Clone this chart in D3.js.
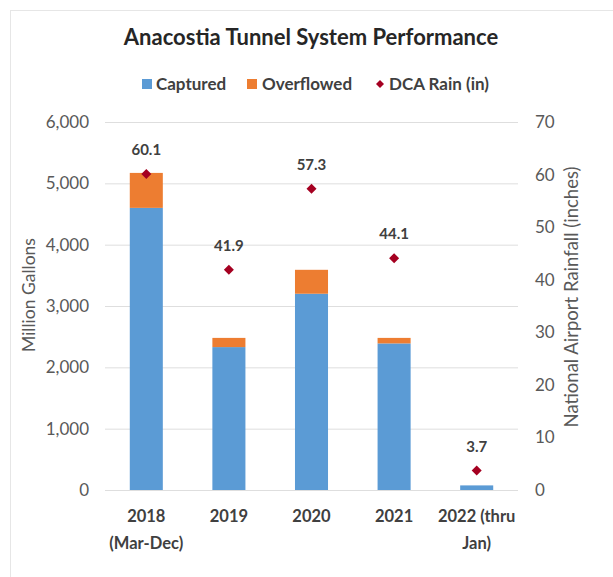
<!DOCTYPE html>
<html><head><meta charset="utf-8">
<script src="https://cdn.jsdelivr.net/npm/d3@7"></script>
<style>body{margin:0;background:#fff}svg{display:block}</style>
</head><body><svg id="c" width="613" height="577"></svg>
<script>
const categories = [["2018","(Mar-Dec)"],["2019"],["2020"],["2021"],["2022 (thru","Jan)"]];
const captured = [4600, 2330, 3200, 2390, 75];
const overflowed = [570, 150, 390, 90, 0];
const rain = [60.1, 41.9, 57.3, 44.1, 3.7];
const leftTicks = [0,1000,2000,3000,4000,5000,6000];
const rightTicks = [0,10,20,30,40,50,60,70];

const svg = d3.select("#c");
const font = "Lato, 'Open Sans', sans-serif";
const m = {l:105, r:518, t:122, b:490};
svg.append("rect").attr("x",10.5).attr("y",10.5).attr("width",640).attr("height",600).attr("fill","none").attr("stroke","#e6e6e6");

const x = d3.scaleBand().domain(d3.range(categories.length)).range([m.l,m.r]).paddingInner(0.6).paddingOuter(0.3);
const yL = d3.scaleLinear().domain([0,6000]).range([m.b,m.t]);
const yR = d3.scaleLinear().domain([0,70]).range([m.b,m.t]);

// grid
svg.append("g").selectAll("line").data(leftTicks).join("line")
  .attr("x1",m.l).attr("x2",m.r).attr("y1",d=>yL(d)+0.5).attr("y2",d=>yL(d)+0.5)
  .attr("stroke","#dedede").attr("stroke-width",1);

// left axis
const axL = svg.append("g").attr("transform",`translate(${m.l-10},0)`)
  .call(d3.axisLeft(yL).tickValues(leftTicks).tickFormat(d3.format(",")).tickSize(0));
axL.select(".domain").remove();
axL.selectAll("text").attr("font-family",font).attr("font-size",17).attr("fill","#595959").attr("x",-6);

const axR = svg.append("g").attr("transform",`translate(${m.r+10},0)`)
  .call(d3.axisRight(yR).tickValues(rightTicks).tickSize(0));
axR.select(".domain").remove();
axR.selectAll("text").attr("font-family",font).attr("font-size",17).attr("fill","#595959").attr("x",7);

// bars
const bw = x.bandwidth();
svg.append("g").selectAll("rect").data(captured).join("rect")
  .attr("x",(d,i)=>x(i)).attr("width",bw).attr("y",d=>yL(d)).attr("height",d=>yL(0)-yL(d)).attr("fill","#5B9BD5");
svg.append("g").selectAll("rect").data(overflowed).join("rect")
  .attr("x",(d,i)=>x(i)).attr("width",bw).attr("y",(d,i)=>yL(captured[i]+d)).attr("height",(d,i)=>yL(captured[i])-yL(captured[i]+d)).attr("fill","#ED7D31");

// rain markers
const sym = d3.symbol().type(d3.symbolSquare).size(50);
svg.append("g").selectAll("path").data(rain).join("path")
  .attr("d",sym).attr("transform",(d,i)=>`translate(${x(i)+bw/2},${yR(d)}) rotate(45)`).attr("fill","#A50021");
svg.append("g").selectAll("text").data(rain).join("text")
  .attr("x",(d,i)=>x(i)+bw/2).attr("y",d=>yR(d)-19).attr("text-anchor","middle")
  .attr("font-family",font).attr("font-size",15).attr("font-weight","bold").attr("fill","#404040")
  .text(d=>d.toFixed(1));

// category labels
const cat = svg.append("g").selectAll("text").data(categories).join("text")
  .attr("x",(d,i)=>x(i)+bw/2).attr("y",522).attr("text-anchor","middle")
  .attr("font-family",font).attr("font-size",16.5).attr("font-weight","bold").attr("fill","#404040");
cat.selectAll("tspan").data(d=>d).join("tspan").attr("x",function(){return this.parentNode.getAttribute("x");})
  .attr("dy",(d,j)=>j?27:0).text(d=>d);

// axis titles
svg.append("text").attr("transform","translate(35,295) rotate(-90)").attr("text-anchor","middle")
  .attr("font-family",font).attr("font-size",17.5).attr("fill","#595959").text("Million Gallons");
svg.append("text").attr("transform","translate(578,297) rotate(-90)").attr("text-anchor","middle")
  .attr("font-family",font).attr("font-size",18.5).attr("fill","#595959").text("National Airport Rainfall (inches)");

// title
svg.append("text").attr("x",311).attr("y",45).attr("text-anchor","middle")
  .attr("font-family",font).attr("font-size",22).attr("font-weight","bold").attr("fill","#262626")
  .text("Anacostia Tunnel System Performance");

// legend
const lg = svg.append("g").attr("font-family",font).attr("font-size",17).attr("font-weight","bold").attr("fill","#404040");
lg.append("rect").attr("x",142).attr("y",79).attr("width",10).attr("height",10).attr("fill","#5B9BD5");
lg.append("text").attr("x",156).attr("y",90).text("Captured");
lg.append("rect").attr("x",247).attr("y",79).attr("width",10).attr("height",10).attr("fill","#ED7D31");
lg.append("text").attr("x",262).attr("y",90).text("Overflowed");
lg.append("path").attr("d",d3.symbol().type(d3.symbolSquare).size(32)).attr("transform","translate(380,84) rotate(45)").attr("fill","#A50021");
lg.append("text").attr("x",389).attr("y",90).text("DCA Rain (in)");
</script></body></html>
